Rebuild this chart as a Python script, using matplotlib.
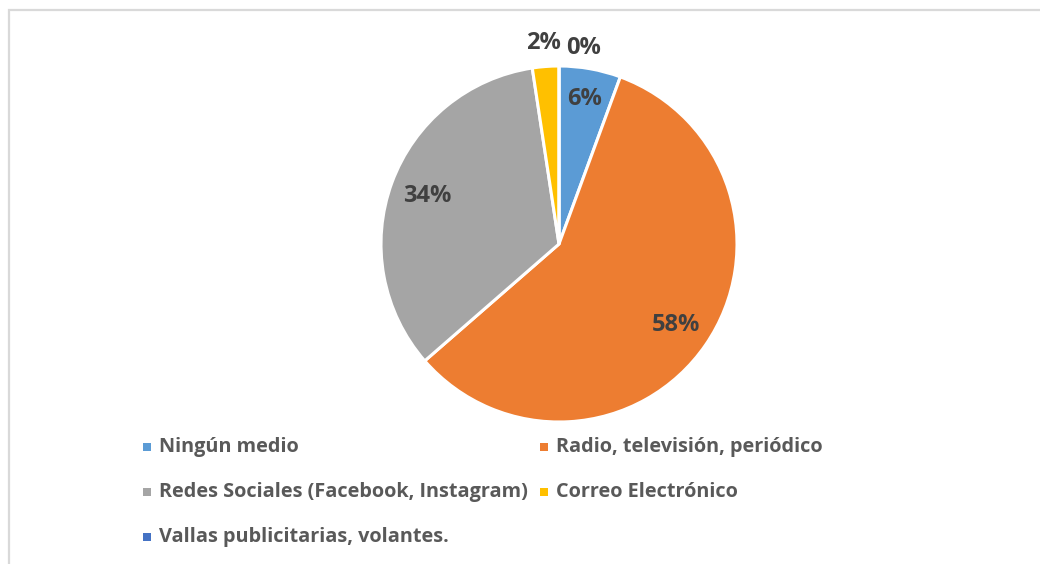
import numpy as np
import matplotlib
matplotlib.use("Agg")
import matplotlib.pyplot as plt
from matplotlib.patches import Rectangle

# Media channels and share of responses (%)
categories = [
    "Ningún medio",
    "Radio, televisión, periódico",
    "Redes Sociales (Facebook, Instagram)",
    "Correo Electrónico",
    "Vallas publicitarias, volantes.",
]
shares = [5.6, 58.0, 34.0, 2.4, 0.0]
labels = ["6%", "58%", "34%", "2%", "0%"]
colors = ["#5B9BD5", "#ED7D31", "#A5A5A5", "#FFC000", "#4472C4"]

# label placement: radius (fraction of pie radius) and angular nudge (degrees)
label_radius = [0.83, 0.80, 0.79, 1.13, 1.11]
label_nudge = [0, 0, 0, 0, -7]

W, H = 1040, 564
fig = plt.figure(figsize=(W / 100, H / 100), dpi=100)
fig.patch.set_facecolor("white")

FONT = "Open Sans"
TEXT_DARK = "#404040"
TEXT_LEG = "#595959"

# chart-area frame (open on right and bottom edges)
frame = Rectangle((8.5 / W, -0.1), 1.2, (H - 10.5) / H + 0.1,
                  transform=fig.transFigure, fill=False,
                  edgecolor="#D9D9D9", linewidth=1.6)
fig.patches.append(frame)

cx, cy, R = 559, 244, 178
ax = fig.add_axes([(cx - R) / W, (H - cy - R) / H, 2 * R / W, 2 * R / H])
wedges, _ = ax.pie(shares, colors=colors, startangle=90, counterclock=False,
                   radius=1.0,
                   wedgeprops=dict(edgecolor="white", linewidth=2.2))
ax.set_xlim(-1, 1)
ax.set_ylim(-1, 1)
ax.axis("off")

for w, lab, rf, nudge in zip(wedges, labels, label_radius, label_nudge):
    ang = np.deg2rad((w.theta1 + w.theta2) / 2 + nudge)
    ax.text(rf * np.cos(ang), rf * np.sin(ang), lab, ha="center", va="center",
            fontsize=17, fontweight="bold", color=TEXT_DARK, family=FONT,
            clip_on=False)

# legend laid out in two columns
col_x = [143, 540]
row_y = [447, 492, 537]
sq = 8
for i, (name, c) in enumerate(zip(categories, colors)):
    x = col_x[i % 2]
    y = row_y[i // 2]
    fig.patches.append(Rectangle((x / W, (H - y - sq / 2) / H), sq / W, sq / H,
                                 transform=fig.transFigure, facecolor=c,
                                 edgecolor="none"))
    fig.text((x + 16) / W, (H - y) / H, name, ha="left", va="center",
             fontsize=14.3, fontweight="bold", color=TEXT_LEG, family=FONT)

fig.savefig("out.png", dpi=100)
